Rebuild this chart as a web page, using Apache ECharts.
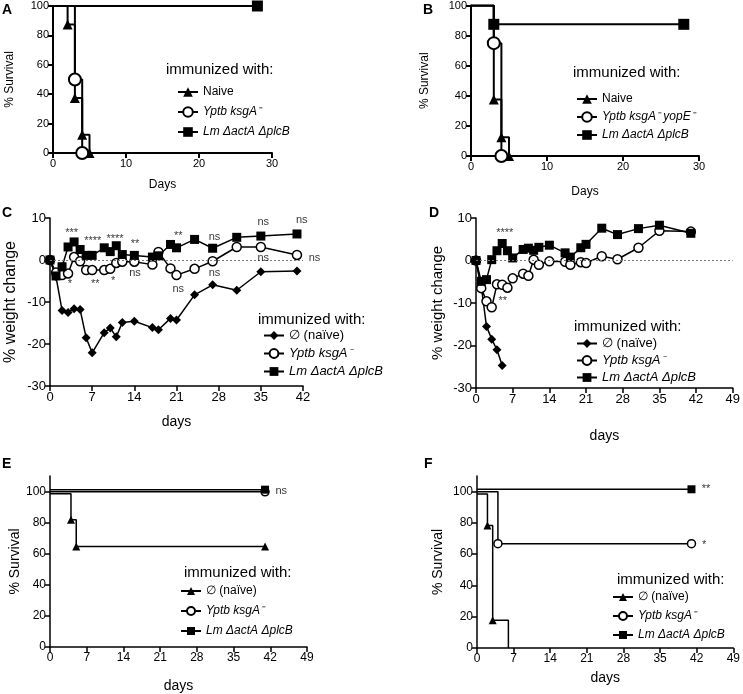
<!DOCTYPE html>
<html><head><meta charset="utf-8">
<script src="https://cdn.jsdelivr.net/npm/echarts@6/dist/echarts.min.js"></script>
<style>html,body{margin:0;padding:0;background:#fff}#c{width:743px;height:694px}</style>
</head><body><div id="c"></div>
<script>
// ---------- DATA ----------
// Panel A (survival vs Days)
const A_naive = [[0,100],[2,87.5],[3,37.5],[4,12.5],[5,0]];
const A_yptb  = [[0,100],[3,50],[4,0]];
const A_lm    = [[0,100],[28,100]];
// Panel B
const B_naive = [[0,100],[3,37.5],[4,12.5],[5,0]];
const B_yptb  = [[0,100],[3,75],[4,0]];
const B_lm    = [[0,100],[3,87.5],[28,87.5]];
// Panels C & D (% weight change vs days)
const weightDays = [0,1,2,3,4,5,6,7,9,10,11,12,14,17,18,20,21,24,27,31,35,41];
const C_naive = [0,-4,-12.0,-12.5,-11.6,-11.8,-18.5,-22.1,-17.3,-16.2,-18.3,-14.9,-14.6,-16.1,-16.6,-13.9,-14.3,-8.3,-5.9,-7.2,-2.8,-2.6];
const C_yptb  = [0,-3.0,-3.6,-3.2,0.7,-0.3,-2.4,-2.4,-2.4,-2.1,-0.7,-0.4,-0.4,-1.1,1.9,-2.0,-3.6,-2.1,-0.3,3.1,3.1,1.2];
const C_lm    = [0,-3.8,-1.6,3.1,4.3,2.5,1.1,1.1,2.9,2.0,3.4,1.3,1.1,0.7,1.0,3.7,2.9,4.9,2.8,5.4,5.7,6.2];
const D_naiveDays = [0,1,2,3,4,5];
const D_naive = [0,-6,-15.5,-18.5,-21,-24.7];
const D_yptb  = [0,-6.5,-9.6,-11.0,-5.6,-5.7,-6.4,-4.2,-3.1,-3.6,0.2,-1.0,-0.2,-0.3,-1.0,-0.4,-0.6,1.0,0.3,3.0,7.0,6.8];
const D_lm    = [0,-4.9,-4.5,0.2,2.3,4.0,2.3,0.6,2.6,2.9,2.4,3.1,3.6,1.8,0.8,3.0,3.8,7.6,6.1,7.5,8.3,6.4];
// Panels E & F (survival vs days)
const E_naive = [[0,98.6],[4,81.8],[5,64.7],[41,64.7]];
const E_yptb  = [[0,99.8],[41,99.8]];
const E_lm    = [[0,101.2],[41,101.2]];
const F_naive = [[0,98.5],[2,78.4],[3,17.8],[6,0]];
const F_yptb  = [[0,100],[4,66.7],[41,66.7]];
const F_lm    = [[0,101.5],[41,101.5]];
// significance annotations [day, value, text]
const C_annot = [[3.6,6.4,'***'],[7.1,4.6,'****'],[10.8,5.1,'****'],[14.1,3.7,'**'],[21.3,5.7,'**'],
  [3.3,-5.6,'*'],[7.5,-5.6,'**'],[10.5,-5.1,'*'],[14.1,-3.0,'ns'],[21.3,-6.8,'ns'],
  [27.3,5.5,'ns'],[27.3,-3.2,'ns'],[35.4,9.0,'ns'],[35.4,0.5,'ns'],[41.8,9.5,'ns'],[43.9,0.5,'ns']];
const D_annot = [[5.5,6.5,'****'],[5.1,-9.5,'**']];
const E_annot = [[44.1,100.4,'ns']];
const F_annot = [[43.8,101.5,'**'],[43.4,65.8,'*']];

const N_NAIVE = 'Naive', N_YPTB = 'Yptb ksgA\u207B', N_YPTB2 = 'Yptb ksgA\u207B yopE\u207B', N_LM = 'Lm \u0394actA \u0394plcB';
const N_NULL = '\u2205 (na\u00EFve)', N_NULL_T = '\u2205 (na\u00EFve) ';

// ---------- CHART ----------
const FONT = '"Liberation Sans", Arial, sans-serif';
const K = '#000';

const grids = [
  {left:53, top:6, width:219, height:147},
  {left:471, top:4, width:228, height:152},
  {left:50, top:218, width:253, height:168},
  {left:476, top:218, width:257, height:170},
  {left:50, top:476, width:257, height:171},
  {left:477, top:476, width:257, height:172}
];

function xAx(gi, max, interval, name, gap, fs, nfs, lw) {
  return {type:'value', gridIndex:gi, min:0, max:max, interval:interval, name:name, nameLocation:'middle', nameGap:gap,
    nameTextStyle:{fontSize:nfs, color:K, fontFamily:FONT},
    axisLine:{onZero:false, lineStyle:{color:K, width:lw}},
    axisTick:{inside:false, length:5, lineStyle:{color:K, width:lw}},
    axisLabel:{color:K, fontSize:fs, fontFamily:FONT, margin:5},
    splitLine:{show:false}};
}
function yAx(gi, min, max, interval, name, gap, fs, nfs, lw, custom) {
  const o = {type:'value', gridIndex:gi, min:min, max:max, interval:interval, name:name, nameLocation:'middle', nameGap:gap,
    nameTextStyle:{fontSize:nfs, color:K, fontFamily:FONT},
    axisLine:{onZero:false, lineStyle:{color:K, width:lw}},
    axisTick:{inside:false, length:5, lineStyle:{color:K, width:lw}},
    axisLabel:{color:K, fontSize:fs, fontFamily:FONT, margin:4},
    splitLine:{show:false}};
  if (custom) { o.axisTick.customValues = custom; o.axisLabel.customValues = custom; }
  return o;
}

function km(name, data, gi, symbol, size, lw, hidden, hollow) {
  return {type:'line', name:name, xAxisIndex:gi, yAxisIndex:gi, step:'end', animation:false,
    data: data.map((d,i)=> hidden.indexOf(i) >= 0 ? {value:d, symbol:'none'} : d),
    symbol:symbol, symbolSize:size, showAllSymbol:true,
    lineStyle:{color:K, width:lw},
    itemStyle: hollow ? {color:'#fff', borderColor:K, borderWidth:lw} : {color:K},
    emphasis:{disabled:true}};
}
function wl(name, days, vals, gi, symbol, size, hollow, extra) {
  const s = {type:'line', name:name, xAxisIndex:gi, yAxisIndex:gi, animation:false,
    data: days.map((d,i)=>[d, vals[i]]), symbol:symbol, symbolSize:size, showAllSymbol:true,
    lineStyle:{color:K, width:1.5},
    itemStyle: hollow ? {color:'#fff', borderColor:K, borderWidth:1.5} : {color:K},
    emphasis:{disabled:true}};
  return Object.assign(s, extra || {});
}
function annot(list, gi) {
  return {type:'scatter', xAxisIndex:gi, yAxisIndex:gi, clip:false, animation:false, silent:true,
    symbol:'circle', symbolSize:1, itemStyle:{color:'rgba(0,0,0,0)'},
    data: list.map(a=>({value:[a[0],a[1]], name:a[2]})),
    label:{show:true, position:'inside', formatter:'{b}', color:K, fontFamily:FONT, fontSize:11},
    z: 5};
}
const zeroLine = {silent:true, symbol:['none','none'], label:{show:false},
  lineStyle:{type:[2,2], color:'#777', width:1}, data:[{yAxis:0}]};

function legendFmt(name) {
  if (name.indexOf('Yptb') === 0 || name.indexOf('Lm') === 0) return '{it|' + name + '}';
  return name.trim();
}
function legend(left, top, names, fs, ih, gap) {
  return {left:left, top:top, orient:'vertical', itemWidth:20, itemHeight:ih, itemGap:gap, padding:0,
    selectedMode:false, data:names, formatter:legendFmt,
    textStyle:{fontSize:fs, color:K, fontFamily:FONT, rich:{it:{fontStyle:'italic', fontSize:fs, fontFamily:FONT, color:K}}}};
}

const titleStyle = (fs, bold) => ({fontSize:fs, fontWeight: bold ? 'bold' : 'normal', color:K, fontFamily:FONT});
const titles = [
  {text:'A', left:2, top:3, padding:0, textStyle:titleStyle(14,true)},
  {text:'B', left:423, top:3, padding:0, textStyle:titleStyle(14,true)},
  {text:'C', left:2, top:206, padding:0, textStyle:titleStyle(14,true)},
  {text:'D', left:429, top:206, padding:0, textStyle:titleStyle(14,true)},
  {text:'E', left:2, top:457, padding:0, textStyle:titleStyle(14,true)},
  {text:'F', left:424, top:457, padding:0, textStyle:titleStyle(14,true)},
  {text:'immunized with:', left:166, top:62, padding:0, textStyle:titleStyle(15)},
  {text:'immunized with:', left:573, top:65, padding:0, textStyle:titleStyle(15)},
  {text:'immunized with:', left:258, top:312, padding:0, textStyle:titleStyle(15)},
  {text:'immunized with:', left:574, top:319, padding:0, textStyle:titleStyle(15)},
  {text:'immunized with:', left:184, top:565, padding:0, textStyle:titleStyle(15)},
  {text:'immunized with:', left:617, top:572, padding:0, textStyle:titleStyle(15)}
];

const option = {
  animation:false,
  backgroundColor:'#fff',
  textStyle:{fontFamily:FONT},
  title: titles,
  grid: grids,
  xAxis: [
    xAx(0, 30, 10, 'Days', 26, 11, 12, 2),
    xAx(1, 30, 10, 'Days', 30, 11, 12, 2),
    xAx(2, 42, 7, 'days', 29, 13, 14, 1.5),
    xAx(3, 49, 7, 'days', 41, 13, 14, 1.5),
    xAx(4, 49, 7, 'days', 32, 12, 14, 1.5),
    xAx(5, 49, 7, 'days', 23, 12, 14, 1.5)
  ],
  yAxis: [
    yAx(0, 0, 100, 20, '% Survival', 37, 11, 12, 2),
    yAx(1, 0, 100, 20, '% Survival', 40, 11, 12, 2),
    yAx(2, -30, 10, 10, '% weight change', 31, 13, 16, 1.5),
    yAx(3, -30, 10, 10, '% weight change', 31, 13, 15, 1.5),
    yAx(4, 0, 110, 20, '% Survival', 27, 12, 14, 1.5, [0,20,40,60,80,100]),
    yAx(5, 0, 110, 20, '% Survival', 32, 12, 14, 1.5, [0,20,40,60,80,100])
  ],
  legend: [
    legend(177, 86, [N_NAIVE, N_YPTB, N_LM], 12, 12, 8),
    legend(576, 93, [N_NAIVE, N_YPTB2, N_LM], 12, 12, 6),
    legend(263, 329, [N_NULL, N_YPTB, N_LM], 13, 11, 5),
    legend(576, 337, [N_NULL, N_YPTB, N_LM], 13, 11, 4),
    legend(180, 585, [N_NULL_T, N_YPTB, N_LM], 12, 10, 8),
    legend(612, 591, [N_NULL_T, N_YPTB, N_LM], 12, 10, 7)
  ],
  series: [
    km(N_NAIVE, A_naive, 0, 'triangle', 10, 2, [0], false),
    km(N_YPTB, A_yptb, 0, 'circle', 12, 2, [0], true),
    km(N_LM, A_lm, 0, 'rect', 11, 2, [0], false),
    km(N_NAIVE, B_naive, 1, 'triangle', 10, 2, [0], false),
    km(N_YPTB2, B_yptb, 1, 'circle', 12, 2, [0], true),
    km(N_LM, B_lm, 1, 'rect', 11, 2, [0], false),
    wl(N_NULL, weightDays, C_naive, 2, 'diamond', 9, false, {markLine: zeroLine}),
    wl(N_YPTB, weightDays, C_yptb, 2, 'circle', 9, true),
    wl(N_LM, weightDays, C_lm, 2, 'rect', 9, false),
    annot(C_annot, 2),
    wl(N_NULL, D_naiveDays, D_naive, 3, 'diamond', 9, false, {markLine: zeroLine}),
    wl(N_YPTB, weightDays, D_yptb, 3, 'circle', 9, true),
    wl(N_LM, weightDays, D_lm, 3, 'rect', 9, false),
    annot(D_annot, 3),
    km(N_NULL_T, E_naive, 4, 'triangle', 8, 1.5, [0], false),
    km(N_YPTB, E_yptb, 4, 'circle', 8, 1.5, [0], true),
    km(N_LM, E_lm, 4, 'rect', 8, 1.5, [0], false),
    annot(E_annot, 4),
    km(N_NULL_T, F_naive, 5, 'triangle', 8, 1.5, [0,3], false),
    km(N_YPTB, F_yptb, 5, 'circle', 8, 1.5, [0], true),
    km(N_LM, F_lm, 5, 'rect', 8, 1.5, [0], false),
    annot(F_annot, 5)
  ]
};
const chart = echarts.init(document.getElementById('c'), null, {renderer:'canvas'});
chart.setOption(option);
</script></body></html>
